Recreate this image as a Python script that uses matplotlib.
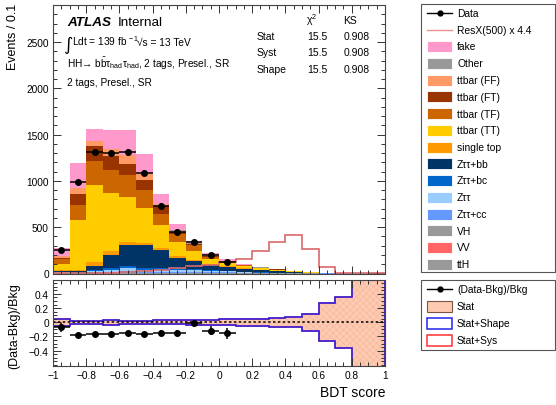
import numpy as np
import matplotlib

matplotlib.use("Agg")
import matplotlib.pyplot as plt  # noqa: E402
from matplotlib.patches import Rectangle  # noqa: E402
from matplotlib.ticker import FixedLocator, FuncFormatter, MultipleLocator  # noqa: E402

plt.rcParams["font.family"] = ["Liberation Sans", "DejaVu Sans"]
plt.rcParams["mathtext.fontset"] = "custom"
plt.rcParams["mathtext.rm"] = "Liberation Sans"
plt.rcParams["mathtext.it"] = "Liberation Sans:italic"
plt.rcParams["mathtext.bf"] = "Liberation Sans:bold"
plt.rcParams["hatch.linewidth"] = 0.35

# BDT score binning: 20 bins of 0.1
edges = np.round(np.linspace(-1.0, 1.0, 21), 2)

# observed events (blinded above 0.1)
data = [255, 983, 1310, 1303, 1310, 1084, 730, 452, 345, 196, 128]

# background components, events per bin
fake = [85, 268, 125, 210, 265, 222, 104, 65, 24, 22, 14, 6, 3, 2, 1, 0.5, 0.2, 0.1, 0, 0]
other = [2, 1, 1, 1, 2, 1, 1, 2, 2, 2, 2, 1, 1, 0.5, 0.2, 0.1, 0, 0, 0, 0]
ttbar_ff = [18, 62, 56, 73, 92, 67, 26, 12, 7, 10, 4, 3, 2, 1, 0.5, 0.2, 0.1, 0, 0, 0]
ttbar_ft = [18, 120, 165, 148, 125, 107, 85, 27, 12, 12, 4, 3, 2, 2, 1, 0.3, 0.1, 0.2, 0, 0]
ttbar_tf = [45, 158, 258, 246, 232, 188, 112, 88, 58, 22, 12, 8, 5, 4, 2, 1, 0.3, 0.2, 0.1, 0]
ttbar_tt = [70, 537, 835, 628, 485, 384, 248, 152, 106, 48, 36, 22, 16, 10, 6, 4, 1.2, 0.5, 0.3, 0.1]
single_top = [6, 15, 44, 43, 36, 23, 25, 14, 10, 10, 7, 3, 3, 2, 2, 1, 0.4, 0.2, 0, 0]
ztt_bb = [12, 14, 43, 145, 230, 245, 196, 114, 80, 55, 42, 35, 25, 18, 13, 5, 4, 1.3, 0.5, 0.3]
ztt_bc = [4, 4, 8, 15, 20, 16, 16, 14, 12, 9, 7, 5, 3, 2, 1.5, 0.8, 0.3, 0.2, 0.1, 0]
ztt_lf = [6, 5, 14, 25, 32, 24, 24, 22, 20, 15, 11, 7, 4, 3, 1.5, 0.7, 0.3, 0.2, 0.1, 0]
ztt_cc = [4, 3, 9, 15, 22, 15, 15, 14, 12, 9, 6, 4, 2, 1, 1, 0.3, 0.1, 0.1, 0, 0]
vh = [2, 0.5, 1, 1, 2, 1, 1, 2, 3, 3, 3, 1, 1, 0.5, 0.1, 0.1, 0, 0, 0, 0]
vv = [2, 1, 1, 1, 1, 1, 1, 2, 2, 3, 2, 1, 0.5, 0.5, 0.1, 0, 0, 0, 0, 0]
tth = [1, 0.5, 1, 1, 1, 1, 1, 2, 2, 2, 2, 1, 0.5, 0.5, 0.1, 0, 0, 0, 0, 0]

# resonant X(500) signal, already scaled by 4.4
signal = [3, 4, 6, 10, 18, 28, 40, 62, 80, 95, 120, 156, 239, 336, 415, 264, 73, 8, 2, 1]

# relative MC stat uncertainty on the total background
stat_up = [0.045, 0.022, 0.02, 0.035, 0.025, 0.025, 0.03, 0.03, 0.035, 0.035,
           0.04, 0.042, 0.045, 0.06, 0.076, 0.12, 0.27, 0.355, 1.0, 1.0]
stat_dn = [0.055, 0.022, 0.02, 0.035, 0.025, 0.025, 0.03, 0.03, 0.035, 0.035,
           0.04, 0.05, 0.055, 0.065, 0.066, 0.128, 0.26, 0.365, 1.0, 1.0]

# legend order (top to bottom); stacked in reverse
backgrounds = [
    ("fake", fake, "#FF99CC"),
    ("Other", other, "#999999"),
    ("ttbar (FF)", ttbar_ff, "#FF9966"),
    ("ttbar (FT)", ttbar_ft, "#993300"),
    ("ttbar (TF)", ttbar_tf, "#CC6600"),
    ("ttbar (TT)", ttbar_tt, "#FFCC00"),
    ("single top", single_top, "#FF9900"),
    ("Zττ+bb", ztt_bb, "#003366"),
    ("Zττ+bc", ztt_bc, "#0066CC"),
    ("Zττ", ztt_lf, "#99CCFF"),
    ("Zττ+cc", ztt_cc, "#6699FF"),
    ("VH", vh, "#999999"),
    ("VV", vv, "#FF6666"),
    ("ttH", tth, "#999999"),
]

SIG_COLOR = "#D9686A"
BAND_COLOR = "#FDCBB2"
BAND_HATCH = "#F5B296"

W, H = 556, 406
fig = plt.figure(figsize=(W / 100, H / 100), dpi=100)


def box(left, top, right, bottom):
    return [left / W, 1 - bottom / H, (right - left) / W, (bottom - top) / H]


ax = fig.add_axes(box(53, 6, 385, 274.5))
axr = fig.add_axes(box(53, 280.7, 385, 367.3))

centers = 0.5 * (edges[:-1] + edges[1:])
data_arr = np.array(data, dtype=float)
ndata = len(data)

# stacked backgrounds
base = np.zeros(len(centers))
for label, values, color in reversed(backgrounds):
    vals = np.array(values, dtype=float)
    ax.stairs(base + vals, edges, baseline=base.copy(), fill=True,
              facecolor=color, edgecolor="none", linewidth=0)
    base = base + vals
total = base

ax.stairs(signal, edges, color=SIG_COLOR, linewidth=1.2)
ax.errorbar(centers[:ndata], data_arr, xerr=0.05, yerr=np.sqrt(data_arr),
            fmt="o", color="black", ms=4, elinewidth=1.1, capsize=0)

ax.set_xlim(-1, 1)
ax.set_ylim(0, 2900)
ax.xaxis.set_major_locator(MultipleLocator(0.2))
ax.xaxis.set_minor_locator(MultipleLocator(0.05))
ax.yaxis.set_major_locator(MultipleLocator(500))
ax.yaxis.set_minor_locator(MultipleLocator(100))
ax.tick_params(labelbottom=False)

# ratio panel
up = np.array(stat_up)
dn = -np.array(stat_dn)
axr.stairs(up, edges, baseline=dn, fill=True, facecolor=BAND_COLOR,
           edgecolor=BAND_HATCH, hatch="xxxxx", linewidth=0)
axr.stairs(up, edges, color="#FF3030", linewidth=1.1)
axr.stairs(dn, edges, color="#FF3030", linewidth=1.1)
axr.stairs(up, edges, color="#2222EE", linewidth=1.1)
axr.stairs(dn, edges, color="#2222EE", linewidth=1.1)
axr.axhline(0, color="black", linestyle=(0, (1.6, 1.6)), linewidth=1.1)

ratio = data_arr / total[:ndata] - 1
ratio_err = np.sqrt(data_arr) / total[:ndata]
axr.errorbar(centers[:ndata], ratio, xerr=0.05, yerr=ratio_err,
             fmt="o", color="black", ms=4, elinewidth=1.1, capsize=0)

axr.set_xlim(-1, 1)
axr.set_ylim(-0.62, 0.6)
axr.xaxis.set_major_locator(MultipleLocator(0.2))
axr.xaxis.set_minor_locator(MultipleLocator(0.05))
axr.yaxis.set_major_locator(FixedLocator([-0.4, -0.2, 0, 0.2, 0.4]))
axr.yaxis.set_minor_locator(MultipleLocator(0.05))

fmt = FuncFormatter(lambda v, _: f"{v:g}".replace("-", "\u2212") if abs(v) > 1e-9 else "0")
axr.xaxis.set_major_formatter(fmt)
axr.yaxis.set_major_formatter(fmt)

for a in (ax, axr):
    a.tick_params(which="both", direction="in", top=True, right=True,
                  labelsize=7.3, width=0.7, color="#333333", pad=3)
    a.tick_params(which="major", length=6)
    a.tick_params(which="minor", length=3.2)
    for sp in a.spines.values():
        sp.set_linewidth(0.8)
        sp.set_color("#444444")
axr.tick_params(axis="x", pad=2.5)

# annotations and legends drawn in pixel space
over = fig.add_axes([0, 0, 1, 1])
over.set_xlim(0, W)
over.set_ylim(H, 0)
over.axis("off")

over.text(13, 4, "Events / 0.1", rotation=90, ha="center", va="top", fontsize=9)
over.text(14, 283, "(Data-Bkg)/Bkg", rotation=90, ha="center", va="top", fontsize=9)
over.text(385, 397, "BDT score", ha="right", va="baseline", fontsize=10)

over.text(67.5, 26, "ATLAS", fontsize=9.7, fontweight="bold", style="italic", va="baseline")
over.text(118, 26, "Internal", fontsize=9.7, va="baseline")
over.text(63, 50.5, "\u222b", fontsize=13, va="baseline", family="DejaVu Sans")
over.text(72.5, 46.5, "Ldt = 139 fb$^{\\,-1}$", fontsize=7.3, va="baseline")
over.text(137, 46.5, "\u221as = 13 TeV", fontsize=7.3, va="baseline")
over.text(67, 68, r"HH→ b$\bar{\mathrm{b}}$τ$_{\mathrm{had}}$τ$_{\mathrm{had}}$, 2 tags, Presel., SR",
          fontsize=7.3, va="baseline")
over.text(67, 86.5, "2 tags, Presel., SR", fontsize=7.3, va="baseline")

over.text(306, 24, "χ$^{2}$", fontsize=7.5, va="baseline")
over.text(343.3, 24, "KS", fontsize=7.5, va="baseline")
for row_y, name in zip([40, 56.5, 73], ["Stat", "Syst", "Shape"]):
    over.text(256.7, row_y, name, fontsize=7.5, va="baseline")
    over.text(307.5, row_y, "15.5", fontsize=7.5, va="baseline")
    over.text(343.3, row_y, "0.908", fontsize=7.5, va="baseline")

LEG_FS = 7.4
over.add_patch(Rectangle((421.3, 5), 134, 268, facecolor="white",
                         edgecolor="#555555", linewidth=0.8))
row_ys = 14 + 16.75 * np.arange(2 + len(backgrounds))
over.plot([427, 452], [row_ys[0]] * 2, color="black", lw=1)
over.plot([439.5], [row_ys[0]], "o", color="black", ms=3.5)
over.text(457, row_ys[0], "Data", fontsize=LEG_FS, va="center")
over.plot([427, 452], [row_ys[1]] * 2, color="#F09090", lw=1)
over.text(457, row_ys[1], "ResX(500) x 4.4", fontsize=LEG_FS, va="center")
for y, (label, _, color) in zip(row_ys[2:], backgrounds):
    over.add_patch(Rectangle((427, y - 5.5), 25, 11, facecolor=color,
                             edgecolor="white", linewidth=0.6))
    over.text(457, y, label, fontsize=LEG_FS, va="center")

over.add_patch(Rectangle((421.3, 281), 134, 70, facecolor="white",
                         edgecolor="#555555", linewidth=0.8))
over.plot([427, 452], [290, 290], color="black", lw=1)
over.plot([439.5], [290], "o", color="black", ms=3.5)
over.text(457, 290, "(Data-Bkg)/Bkg", fontsize=LEG_FS, va="center")
over.add_patch(Rectangle((427, 301.5), 25, 11, facecolor=BAND_COLOR,
                         edgecolor="#7A5548", linewidth=0.8))
over.text(457, 307, "Stat", fontsize=LEG_FS, va="center")
over.add_patch(Rectangle((427, 318.5), 25, 11, facecolor="white",
                         edgecolor="#2222EE", linewidth=1.1))
over.text(457, 324, "Stat+Shape", fontsize=LEG_FS, va="center")
over.add_patch(Rectangle((427, 335.5), 25, 11, facecolor="white",
                         edgecolor="#FF3030", linewidth=1.1))
over.text(457, 341, "Stat+Sys", fontsize=LEG_FS, va="center")

fig.savefig("out.png", dpi=100)
